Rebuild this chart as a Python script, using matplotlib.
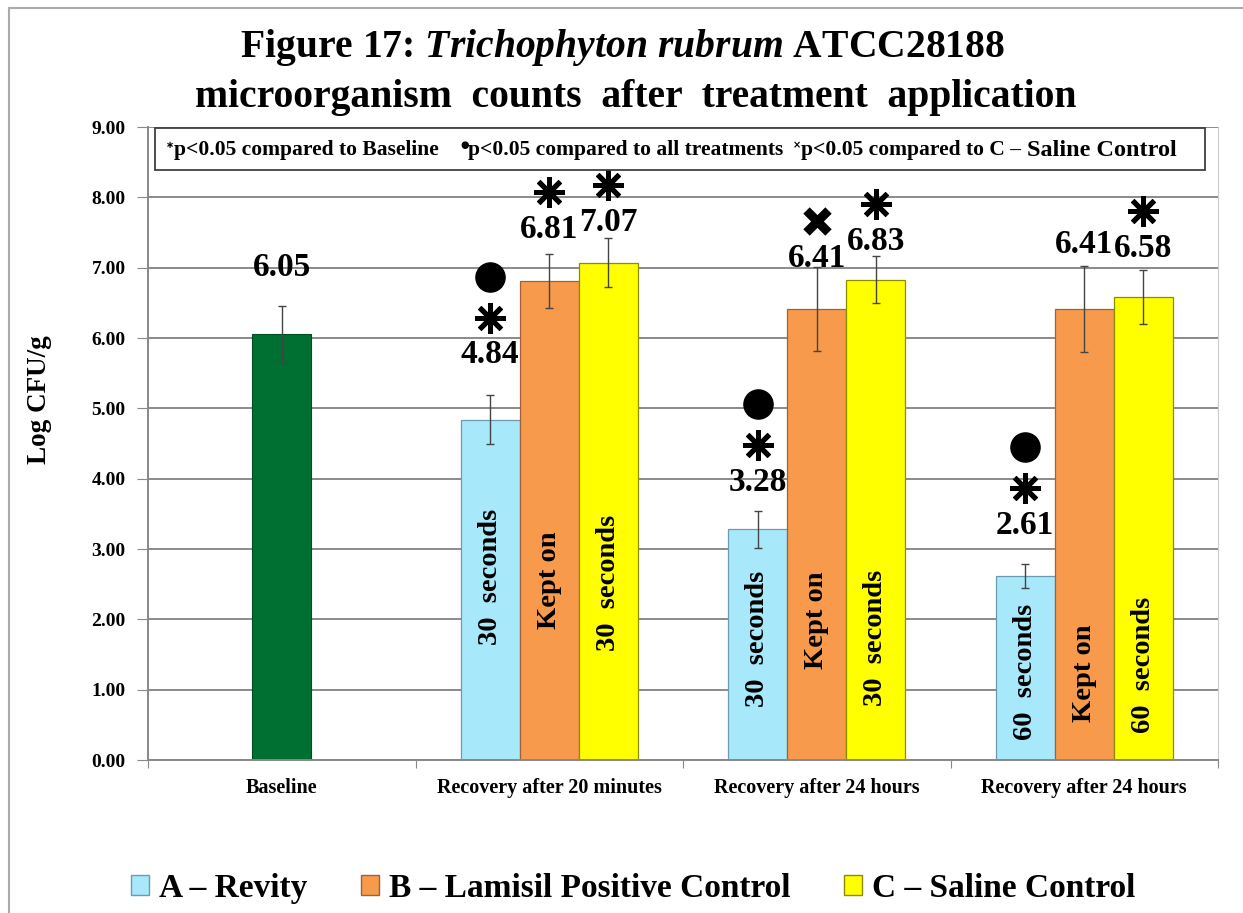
import matplotlib
matplotlib.use('Agg')
import matplotlib.pyplot as plt
from matplotlib.patches import Rectangle, Patch
from matplotlib.lines import Line2D
import numpy as np

plt.rcParams['font.family'] = ['Liberation Serif', 'DejaVu Serif']
plt.rcParams['font.weight'] = 'bold'
plt.rcParams['mathtext.fontset'] = 'custom'
plt.rcParams['mathtext.it'] = 'Liberation Serif:italic:bold'
plt.rcParams['mathtext.rm'] = 'Liberation Serif:bold'

# ---------------- data ----------------
categories = ['Baseline', 'Recovery after 20 minutes',
              'Recovery after 24 hours', 'Recovery after 24 hours']
series_names = ['A – Revity', 'B – Lamisil Positive Control', 'C – Saline Control']
baseline_value = 6.05
baseline_err = 0.40
a_values = [4.84, 3.28, 2.61]
b_values = [6.81, 6.41, 6.41]
c_values = [7.07, 6.83, 6.58]
a_err = [0.35, 0.26, 0.17]
b_err = [0.38, 0.60, 0.61]
c_err = [0.35, 0.33, 0.38]
a_notes = ['30  seconds', '30  seconds', '60  seconds']
b_notes = ['Kept on', 'Kept on', 'Kept on']
c_notes = ['30  seconds', '30  seconds', '60  seconds']
a_sig = [['ast', 'dot'], ['ast', 'dot'], ['ast', 'dot']]
b_sig = [['ast'], ['cross'], []]
c_sig = [['ast'], ['ast'], ['ast']]
yticks = [0, 1, 2, 3, 4, 5, 6, 7, 8, 9]

# ---------------- label placement (styling) ----------------
baseline_label_gap = 0.55
a_label_gap = [0.57, 0.41, 0.56]
b_label_gap = [0.35, 0.12, 0.31]
c_label_gap = [0.22, 0.21, 0.31]
a_note_y = [2.60, 1.72, 1.25]
b_note_y = [2.56, 1.98, 1.24]
c_note_y = [2.52, 1.74, 1.35]

colors = ['#A8E8FB', '#F79A4C', '#FFFF00']
edges = ['#6E9AAE', '#A0603A', '#8C8C00']
green = '#007032'

W, H = 1243, 913
fig = plt.figure(figsize=(W / 100, H / 100), dpi=100)
ax = fig.add_axes([148 / W, 1 - 760 / H, 1070 / W, 633 / H])

bw = 0.221
groups = np.arange(1, 4)

ax.bar(0, baseline_value, bw, color=green, edgecolor='#004d22', lw=0.8, zorder=2)
ax.errorbar(0, baseline_value, yerr=baseline_err, fmt='none', ecolor='#444444',
            elinewidth=1, capsize=3, capthick=1, zorder=3)
ax.text(0, baseline_value + baseline_err + baseline_label_gap, f'{baseline_value:.2f}',
        ha='center', va='center', fontsize=24, fontweight='bold', zorder=5)

marker_style = {
    'ast': dict(marker=(8, 2, 0), markersize=22, markeredgewidth=3.6, color='black'),
    'dot': dict(marker='o', markersize=21, color='black'),
    'cross': dict(marker='x', markersize=16, markeredgewidth=6.5, color='black'),
}

series = [(a_values, a_err, a_notes, a_sig, a_label_gap, a_note_y),
          (b_values, b_err, b_notes, b_sig, b_label_gap, b_note_y),
          (c_values, c_err, c_notes, c_sig, c_label_gap, c_note_y)]

for k, (vals, errs, notes, sigs, gaps, note_y) in enumerate(series):
    xs = groups + (k - 1) * bw
    ax.bar(xs, vals, bw, color=colors[k], edgecolor=edges[k], lw=0.9, zorder=2)
    ax.errorbar(xs, vals, yerr=errs, fmt='none', ecolor='#444444',
                elinewidth=1, capsize=3, capthick=1, zorder=3)
    for x, v, e, note, sig, g, ny in zip(xs, vals, errs, notes, sigs, gaps, note_y):
        ly = v + e + g
        ax.text(x, ly, f'{v:.2f}', ha='center', va='center', fontsize=24,
                fontweight='bold', zorder=5)
        for j, s in enumerate(sig):
            my = ly + 0.53 + j * 0.58
            ax.plot([x], [my], linestyle='none', zorder=6, **marker_style[s])
        ax.text(x, ny, note, rotation=90, ha='center', va='center', fontsize=20.5,
                fontweight='bold', zorder=5)

ax.set_xlim(-0.5, 3.5)
ax.set_ylim(0, 9)
ax.set_yticks(yticks)
ax.set_yticklabels([f'{t:.2f}' for t in yticks], fontsize=14, fontweight='bold')
ax.yaxis.grid(True, color='#8a8a8a', lw=1.4, zorder=0)
ax.set_axisbelow(True)
ax.set_xticks(np.arange(-0.5, 4, 1))
ax.set_xticklabels([])
ax.set_xticks(np.arange(4), minor=True)
ax.set_xticklabels(categories, minor=True, fontsize=14.5, fontweight='bold')
ax.tick_params(axis='x', which='minor', length=0, pad=13)
ax.tick_params(axis='x', which='major', length=6, color='#888888', direction='out')
ax.tick_params(axis='y', length=8, color='#888888', direction='out', pad=8)
for sp in ['left', 'bottom']:
    ax.spines[sp].set_color('#888888')
    ax.spines[sp].set_linewidth(1.4)
ax.spines['top'].set_visible(False)
ax.spines['right'].set_color('#cccccc')

fig.text(40 / W, 1 - 400 / H, 'Log CFU/g', rotation=90, ha='center', va='center',
         fontsize=19.5, fontweight='bold')

# title
fig.text(622 / W, 1 - 48 / H, r'Figure 17: $\mathit{Trichophyton\ rubrum}$ ATCC28188',
         ha='center', va='center', fontsize=28.5, fontweight='bold')
fig.text(636 / W, 1 - 98 / H, 'microorganism  counts  after  treatment  application',
         ha='center', va='center', fontsize=28.5, fontweight='bold')

# significance key box
ax.add_patch(Rectangle((0.0065, 0.932), 0.9815, 0.066, transform=ax.transAxes,
                       facecolor='white', edgecolor='#404040', lw=1.3, zorder=7,
                       clip_on=False))
ky = 0.963
key_items = [(0.0165, '∗', 'p<0.05 compared to Baseline', None),
             (0.292, '●', 'p<0.05 compared to all treatments', None),
             (0.603, '×', 'p<0.05 compared to C – ', 'Saline Control')]
fig.canvas.draw()
renderer = fig.canvas.get_renderer()
for x0, sym, txt, big in key_items:
    ax.text(x0, ky + 0.009, sym, transform=ax.transAxes, ha='left', va='center',
            fontsize=7, family=['DejaVu Sans'], zorder=8)
    t = ax.text(x0 + 0.0075, ky, txt, transform=ax.transAxes, ha='left', va='center',
                fontsize=15.5, fontweight='bold', zorder=8)
    if big:
        bb = t.get_window_extent(renderer)
        xe = ax.transAxes.inverted().transform((bb.x1, bb.y0))[0]
        ax.text(xe, ky, big, transform=ax.transAxes, ha='left', va='center',
                fontsize=17.5, fontweight='bold', zorder=8)

# bottom legend
handles = [Patch(facecolor=colors[i], edgecolor=edges[i], label=series_names[i])
           for i in range(3)]
fig.legend(handles=handles, loc='center', bbox_to_anchor=(633 / W, 1 - 888 / H),
           ncol=3, frameon=False, prop=dict(size=24, weight='bold'),
           handlelength=0.55, handleheight=0.55, handletextpad=0.3, columnspacing=1.6)

# outer frame
fig.add_artist(Line2D([9 / W, 1.0], [1 - 8 / H, 1 - 8 / H], transform=fig.transFigure,
                      color='#aaaaaa', lw=1.5))
fig.add_artist(Line2D([9 / W, 9 / W], [1 - 8 / H, 0], transform=fig.transFigure,
                      color='#aaaaaa', lw=1.5))

fig.savefig('out.png', dpi=100)
